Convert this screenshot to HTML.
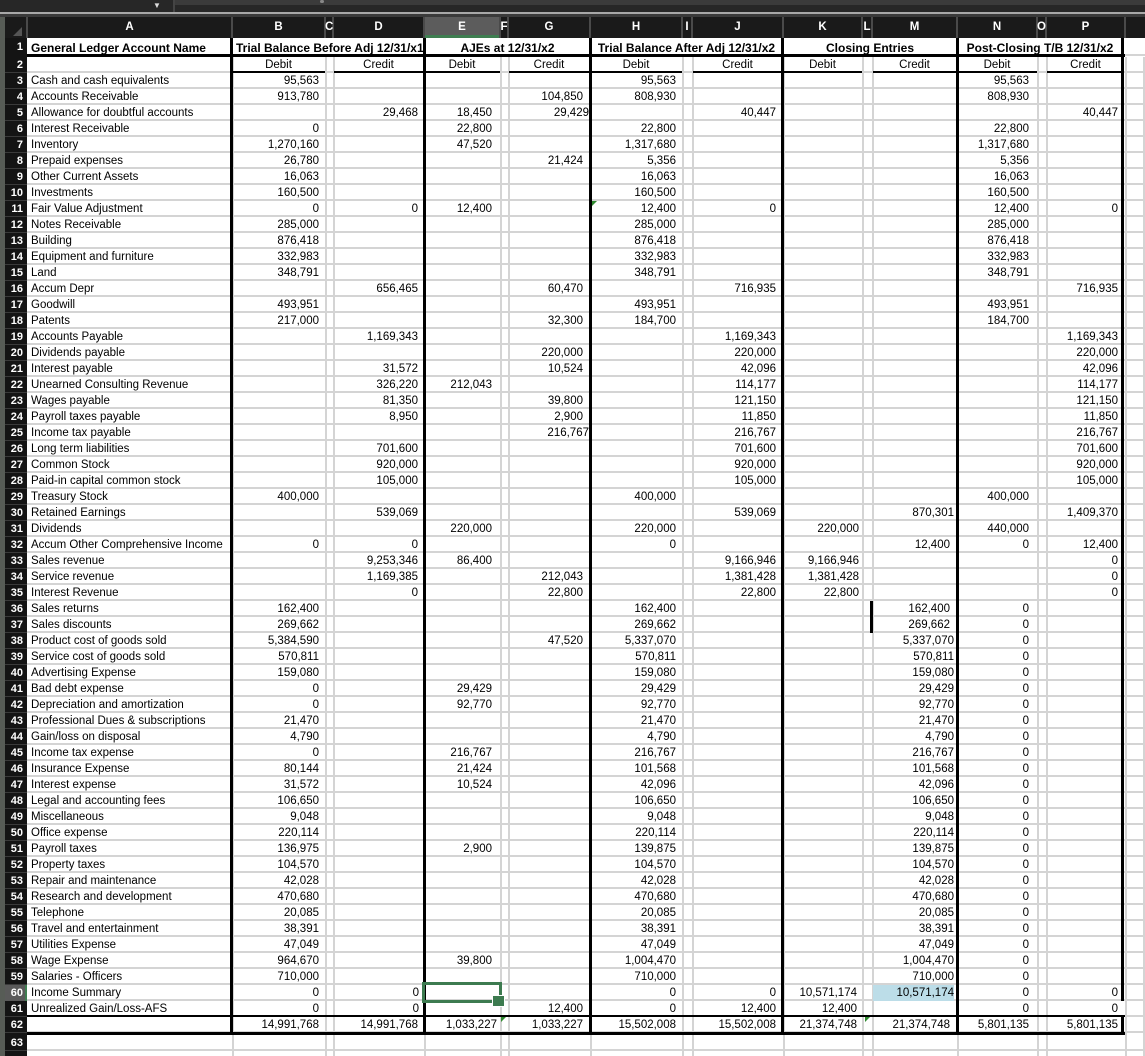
<!DOCTYPE html>
<html><head><meta charset="utf-8"><style>
*{margin:0;padding:0;box-sizing:border-box}
body{width:1145px;height:1056px;overflow:hidden;background:#fff;position:relative;font-family:"Liberation Sans",Arial,sans-serif;font-size:11.5px;color:#000}
.a{position:absolute}
.vg{position:absolute;top:57px;height:999px;width:2px;background:#d4d4d4}
.tk{position:absolute;width:3px;background:#000}
.ul{position:absolute;top:71px;height:2px;background:#000}
.hd{position:absolute;top:17px;height:21px;line-height:21px;color:#fff;font-weight:bold;font-size:11.5px;text-align:center}
.hs{position:absolute;top:17px;height:21px;width:2px;background:#4a4a4a}
.h{position:absolute;top:38px;height:16px;line-height:20px;font-weight:bold;font-size:12px;white-space:nowrap;overflow:hidden}
.r{position:absolute;left:0;width:1145px;height:16px}
.r i{position:absolute;top:0;height:16px;line-height:17.5px;white-space:nowrap;font-style:normal;text-align:right}
.r i.n{left:5px;width:18px;color:#fff;font-weight:bold;font-size:11px}
.r i.A{left:27px;width:205px;text-align:left;padding-left:4px}
.r i.B{left:232px;width:93px;padding-right:6px}
.r i.D{left:333px;width:91px;padding-right:6px}
.r i.E{left:424px;width:76px;padding-right:8px}
.r i.G{left:508px;width:82px;padding-right:7px}
.r i.H{left:590px;width:92px;padding-right:6px}
.r i.J{left:692px;width:91px;padding-right:7px}
.r i.K{left:783px;width:79px;padding-right:3px}
.r i.M{left:872px;width:85px;padding-right:7px}
.r i.N{left:957px;width:80px;padding-right:8px}
.r i.P{left:1046px;width:79px;padding-right:7px}
.r i.f{padding-right:3px}
.r i.g{padding-right:1px}
.r i.k5{padding-right:5px}
.r i.c{text-align:center;padding:0}
.tri{position:absolute;width:0;height:0;border-top:5px solid #2f8a2f;border-right:5px solid transparent}
</style></head><body>

<!-- top toolbar -->
<div class="a" style="left:0;top:0;width:1145px;height:13px;background:#272727"></div>
<div class="a" style="left:175px;top:0;width:970px;height:5px;background:#3b3b3b"></div>
<div class="a" style="left:173px;top:0;width:2px;height:13px;background:#444"></div>
<div class="a" style="left:152px;top:0;width:10px;height:12px;color:#ddd;font-size:8px;line-height:12px;text-align:center">▼</div>
<div class="a" style="left:320px;top:0;width:4px;height:3px;background:#888;border-radius:2px"></div>
<div class="a" style="left:0;top:12px;width:1145px;height:2px;background:#a8a8a8"></div>
<div class="a" style="left:0;top:14px;width:1145px;height:3px;background:#3a3a3a"></div>

<!-- column header -->
<div class="a" style="left:0;top:17px;width:1145px;height:21px;background:#1a1a1a"></div>
<div class="a" style="left:424px;top:17px;width:76px;height:21px;background:#5c5c5c"></div>
<div class="a" style="left:424px;top:35px;width:76px;height:3px;background:#3f7e51"></div>
<div class="a" style="left:13px;top:27px;width:0;height:0;border-left:9px solid transparent;border-bottom:9px solid #555"></div>
<div class="hs" style="left:26px"></div><div class="hs" style="left:231px"></div><div class="hs" style="left:324px"></div><div class="hs" style="left:332px"></div><div class="hs" style="left:423px"></div><div class="hs" style="left:499px"></div><div class="hs" style="left:507px"></div><div class="hs" style="left:589px"></div><div class="hs" style="left:681px"></div><div class="hs" style="left:691px"></div><div class="hs" style="left:782px"></div><div class="hs" style="left:861px"></div><div class="hs" style="left:871px"></div><div class="hs" style="left:956px"></div><div class="hs" style="left:1036px"></div><div class="hs" style="left:1045px"></div><div class="hs" style="left:1124px"></div>
<div class="hd" style="left:27px;width:205px">A</div>
<div class="hd" style="left:232px;width:93px">B</div>
<div class="hd" style="left:325px;width:8px">C</div>
<div class="hd" style="left:333px;width:91px">D</div>
<div class="hd" style="left:424px;width:76px">E</div>
<div class="hd" style="left:500px;width:8px">F</div>
<div class="hd" style="left:508px;width:82px">G</div>
<div class="hd" style="left:590px;width:92px">H</div>
<div class="hd" style="left:682px;width:10px">I</div>
<div class="hd" style="left:692px;width:91px">J</div>
<div class="hd" style="left:783px;width:79px">K</div>
<div class="hd" style="left:862px;width:10px">L</div>
<div class="hd" style="left:872px;width:85px">M</div>
<div class="hd" style="left:957px;width:80px">N</div>
<div class="hd" style="left:1037px;width:9px">O</div>
<div class="hd" style="left:1046px;width:79px">P</div>

<!-- left strip and row number column -->
<div class="a" style="left:0;top:17px;width:5px;height:1039px;background:#575c56"></div>
<div class="a" style="left:5px;top:38px;width:22px;height:1018px;background:#141414"></div>
<div class="a" style="left:5px;top:57px;width:22px;height:976px;background:repeating-linear-gradient(#0000 0 15px,#3a3a3a 15px 16px)"></div>
<div class="a" style="left:5px;top:1035px;width:22px;height:21px;background:repeating-linear-gradient(#0000 0 15px,#3a3a3a 15px 16px)"></div>
<div class="a" style="left:5px;top:985px;width:22px;height:16px;background:#5a5a5a"></div>
<div class="a" style="left:25px;top:985px;width:2px;height:16px;background:#3f7e51"></div>

<!-- horizontal gridlines -->
<div class="a" style="left:27px;top:57px;width:1118px;height:976px;background:repeating-linear-gradient(#0000 0 14px,#d4d4d4 14px 16px)"></div>
<div class="a" style="left:27px;top:1035px;width:1118px;height:21px;background:repeating-linear-gradient(#0000 0 14px,#d4d4d4 14px 16px)"></div>
<div class="a" style="left:1125px;top:54px;width:20px;height:2px;background:#d4d4d4"></div>

<!-- vertical gridlines -->
<div class="vg" style="left:232px"></div><div class="vg" style="left:325px"></div><div class="vg" style="left:333px"></div><div class="vg" style="left:424px"></div><div class="vg" style="left:500px"></div><div class="vg" style="left:508px"></div><div class="vg" style="left:590px"></div><div class="vg" style="left:682px"></div><div class="vg" style="left:692px"></div><div class="vg" style="left:783px"></div><div class="vg" style="left:862px"></div><div class="vg" style="left:872px"></div><div class="vg" style="left:957px"></div><div class="vg" style="left:1037px"></div><div class="vg" style="left:1046px"></div><div class="vg" style="left:1125px"></div><div class="vg" style="left:1143px"></div>

<!-- fill M60 -->
<div class="a" style="left:873px;top:985px;width:81px;height:16px;background:#bcdde8"></div>

<!-- black borders -->
<div class="a" style="left:27px;top:54px;width:1098px;height:3px;background:#000"></div>
<div class="ul" style="left:233px;width:92px"></div>
<div class="ul" style="left:334px;width:90px"></div>
<div class="ul" style="left:425px;width:75px"></div>
<div class="ul" style="left:509px;width:81px"></div>
<div class="ul" style="left:591px;width:91px"></div>
<div class="ul" style="left:693px;width:89px"></div>
<div class="ul" style="left:784px;width:78px"></div>
<div class="ul" style="left:873px;width:84px"></div>
<div class="ul" style="left:958px;width:79px"></div>
<div class="ul" style="left:1047px;width:76px"></div>
<div class="a" style="left:27px;top:1015px;width:1098px;height:2px;background:#000"></div>
<div class="a" style="left:27px;top:1032px;width:1098px;height:3px;background:#000"></div>
<div class="tk" style="left:230px;top:38px;height:997px"></div>
<div class="tk" style="left:423px;top:38px;height:997px"></div>
<div class="tk" style="left:589px;top:38px;height:997px"></div>
<div class="tk" style="left:781px;top:38px;height:997px"></div>
<div class="tk" style="left:956px;top:38px;height:997px"></div>
<div class="tk" style="left:1121px;top:38px;height:963px"></div>
<div class="tk" style="left:1121px;top:1015px;height:20px"></div>
<div class="tk" style="left:870px;top:601px;height:32px"></div>

<!-- header row 1 -->
<div class="h" style="left:31px;width:200px">General Ledger Account Name</div>
<div class="h" style="left:236px;width:187px">Trial Balance Before Adj 12/31/x1</div>
<div class="h" style="left:426px;width:163px;text-align:center">AJEs at 12/31/x2</div>
<div class="h" style="left:592px;width:189px;text-align:center">Trial Balance After Adj 12/31/x2</div>
<div class="h" style="left:784px;width:172px;text-align:center">Closing Entries</div>
<div class="h" style="left:959px;width:162px;text-align:center">Post-Closing T/B 12/31/x2</div>
<div class="r" style="top:38px"><i class="n" style="line-height:19px">1</i></div>

<div class="r" style="top:57px"><i class="n">2</i><i class="B c">Debit</i><i class="D c">Credit</i><i class="E c">Debit</i><i class="G c">Credit</i><i class="H c">Debit</i><i class="J c">Credit</i><i class="K c">Debit</i><i class="M c">Credit</i><i class="N c">Debit</i><i class="P c">Credit</i></div>
<div class="r" style="top:73px"><i class="n">3</i><i class="A">Cash and cash equivalents</i><i class="B">95,563</i><i class="H">95,563</i><i class="N">95,563</i></div>
<div class="r" style="top:89px"><i class="n">4</i><i class="A">Accounts Receivable</i><i class="B">913,780</i><i class="G">104,850</i><i class="H">808,930</i><i class="N">808,930</i></div>
<div class="r" style="top:105px"><i class="n">5</i><i class="A">Allowance for doubtful accounts</i><i class="D">29,468</i><i class="E">18,450</i><i class="G g">29,429</i><i class="J">40,447</i><i class="P">40,447</i></div>
<div class="r" style="top:121px"><i class="n">6</i><i class="A">Interest Receivable</i><i class="B">0</i><i class="E">22,800</i><i class="H">22,800</i><i class="N">22,800</i></div>
<div class="r" style="top:137px"><i class="n">7</i><i class="A">Inventory</i><i class="B">1,270,160</i><i class="E">47,520</i><i class="H">1,317,680</i><i class="N">1,317,680</i></div>
<div class="r" style="top:153px"><i class="n">8</i><i class="A">Prepaid expenses</i><i class="B">26,780</i><i class="G">21,424</i><i class="H">5,356</i><i class="N">5,356</i></div>
<div class="r" style="top:169px"><i class="n">9</i><i class="A">Other Current Assets</i><i class="B">16,063</i><i class="H">16,063</i><i class="N">16,063</i></div>
<div class="r" style="top:185px"><i class="n">10</i><i class="A">Investments</i><i class="B">160,500</i><i class="H">160,500</i><i class="N">160,500</i></div>
<div class="r" style="top:201px"><i class="n">11</i><i class="A">Fair Value Adjustment</i><i class="B">0</i><i class="D">0</i><i class="E">12,400</i><i class="H">12,400</i><i class="J">0</i><i class="N">12,400</i><i class="P">0</i></div>
<div class="r" style="top:217px"><i class="n">12</i><i class="A">Notes Receivable</i><i class="B">285,000</i><i class="H">285,000</i><i class="N">285,000</i></div>
<div class="r" style="top:233px"><i class="n">13</i><i class="A">Building</i><i class="B">876,418</i><i class="H">876,418</i><i class="N">876,418</i></div>
<div class="r" style="top:249px"><i class="n">14</i><i class="A">Equipment and furniture</i><i class="B">332,983</i><i class="H">332,983</i><i class="N">332,983</i></div>
<div class="r" style="top:265px"><i class="n">15</i><i class="A">Land</i><i class="B">348,791</i><i class="H">348,791</i><i class="N">348,791</i></div>
<div class="r" style="top:281px"><i class="n">16</i><i class="A">Accum Depr</i><i class="D">656,465</i><i class="G">60,470</i><i class="J">716,935</i><i class="P">716,935</i></div>
<div class="r" style="top:297px"><i class="n">17</i><i class="A">Goodwill</i><i class="B">493,951</i><i class="H">493,951</i><i class="N">493,951</i></div>
<div class="r" style="top:313px"><i class="n">18</i><i class="A">Patents</i><i class="B">217,000</i><i class="G">32,300</i><i class="H">184,700</i><i class="N">184,700</i></div>
<div class="r" style="top:329px"><i class="n">19</i><i class="A">Accounts Payable</i><i class="D">1,169,343</i><i class="J">1,169,343</i><i class="P">1,169,343</i></div>
<div class="r" style="top:345px"><i class="n">20</i><i class="A">Dividends payable</i><i class="G">220,000</i><i class="J">220,000</i><i class="P">220,000</i></div>
<div class="r" style="top:361px"><i class="n">21</i><i class="A">Interest payable</i><i class="D">31,572</i><i class="G">10,524</i><i class="J">42,096</i><i class="P">42,096</i></div>
<div class="r" style="top:377px"><i class="n">22</i><i class="A">Unearned Consulting Revenue</i><i class="D">326,220</i><i class="E">212,043</i><i class="J">114,177</i><i class="P">114,177</i></div>
<div class="r" style="top:393px"><i class="n">23</i><i class="A">Wages payable</i><i class="D">81,350</i><i class="G">39,800</i><i class="J">121,150</i><i class="P">121,150</i></div>
<div class="r" style="top:409px"><i class="n">24</i><i class="A">Payroll taxes payable</i><i class="D">8,950</i><i class="G">2,900</i><i class="J">11,850</i><i class="P">11,850</i></div>
<div class="r" style="top:425px"><i class="n">25</i><i class="A">Income tax payable</i><i class="G g">216,767</i><i class="J">216,767</i><i class="P">216,767</i></div>
<div class="r" style="top:441px"><i class="n">26</i><i class="A">Long term liabilities</i><i class="D">701,600</i><i class="J">701,600</i><i class="P">701,600</i></div>
<div class="r" style="top:457px"><i class="n">27</i><i class="A">Common Stock</i><i class="D">920,000</i><i class="J">920,000</i><i class="P">920,000</i></div>
<div class="r" style="top:473px"><i class="n">28</i><i class="A">Paid-in capital common stock</i><i class="D">105,000</i><i class="J">105,000</i><i class="P">105,000</i></div>
<div class="r" style="top:489px"><i class="n">29</i><i class="A">Treasury Stock</i><i class="B">400,000</i><i class="H">400,000</i><i class="N">400,000</i></div>
<div class="r" style="top:505px"><i class="n">30</i><i class="A">Retained Earnings</i><i class="D">539,069</i><i class="J">539,069</i><i class="M f">870,301</i><i class="P">1,409,370</i></div>
<div class="r" style="top:521px"><i class="n">31</i><i class="A">Dividends</i><i class="E">220,000</i><i class="H">220,000</i><i class="K">220,000</i><i class="N">440,000</i></div>
<div class="r" style="top:537px"><i class="n">32</i><i class="A">Accum Other Comprehensive Income</i><i class="B">0</i><i class="D">0</i><i class="H">0</i><i class="M">12,400</i><i class="N">0</i><i class="P">12,400</i></div>
<div class="r" style="top:553px"><i class="n">33</i><i class="A">Sales revenue</i><i class="D">9,253,346</i><i class="E">86,400</i><i class="J">9,166,946</i><i class="K">9,166,946</i><i class="P">0</i></div>
<div class="r" style="top:569px"><i class="n">34</i><i class="A">Service revenue</i><i class="D">1,169,385</i><i class="G">212,043</i><i class="J">1,381,428</i><i class="K">1,381,428</i><i class="P">0</i></div>
<div class="r" style="top:585px"><i class="n">35</i><i class="A">Interest Revenue</i><i class="D">0</i><i class="G">22,800</i><i class="J">22,800</i><i class="K">22,800</i><i class="P">0</i></div>
<div class="r" style="top:601px"><i class="n">36</i><i class="A">Sales returns</i><i class="B">162,400</i><i class="H">162,400</i><i class="M">162,400</i><i class="N">0</i></div>
<div class="r" style="top:617px"><i class="n">37</i><i class="A">Sales discounts</i><i class="B">269,662</i><i class="H">269,662</i><i class="M">269,662</i><i class="N">0</i></div>
<div class="r" style="top:633px"><i class="n">38</i><i class="A">Product cost of goods sold</i><i class="B">5,384,590</i><i class="G">47,520</i><i class="H">5,337,070</i><i class="M f">5,337,070</i><i class="N">0</i></div>
<div class="r" style="top:649px"><i class="n">39</i><i class="A">Service cost of goods sold</i><i class="B">570,811</i><i class="H">570,811</i><i class="M f">570,811</i><i class="N">0</i></div>
<div class="r" style="top:665px"><i class="n">40</i><i class="A">Advertising Expense</i><i class="B">159,080</i><i class="H">159,080</i><i class="M f">159,080</i><i class="N">0</i></div>
<div class="r" style="top:681px"><i class="n">41</i><i class="A">Bad debt expense</i><i class="B">0</i><i class="E">29,429</i><i class="H">29,429</i><i class="M f">29,429</i><i class="N">0</i></div>
<div class="r" style="top:697px"><i class="n">42</i><i class="A">Depreciation and amortization</i><i class="B">0</i><i class="E">92,770</i><i class="H">92,770</i><i class="M f">92,770</i><i class="N">0</i></div>
<div class="r" style="top:713px"><i class="n">43</i><i class="A">Professional Dues &amp; subscriptions</i><i class="B">21,470</i><i class="H">21,470</i><i class="M f">21,470</i><i class="N">0</i></div>
<div class="r" style="top:729px"><i class="n">44</i><i class="A">Gain/loss on disposal</i><i class="B">4,790</i><i class="H">4,790</i><i class="M f">4,790</i><i class="N">0</i></div>
<div class="r" style="top:745px"><i class="n">45</i><i class="A">Income tax expense</i><i class="B">0</i><i class="E">216,767</i><i class="H">216,767</i><i class="M f">216,767</i><i class="N">0</i></div>
<div class="r" style="top:761px"><i class="n">46</i><i class="A">Insurance Expense</i><i class="B">80,144</i><i class="E">21,424</i><i class="H">101,568</i><i class="M f">101,568</i><i class="N">0</i></div>
<div class="r" style="top:777px"><i class="n">47</i><i class="A">Interest expense</i><i class="B">31,572</i><i class="E">10,524</i><i class="H">42,096</i><i class="M f">42,096</i><i class="N">0</i></div>
<div class="r" style="top:793px"><i class="n">48</i><i class="A">Legal and accounting fees</i><i class="B">106,650</i><i class="H">106,650</i><i class="M f">106,650</i><i class="N">0</i></div>
<div class="r" style="top:809px"><i class="n">49</i><i class="A">Miscellaneous</i><i class="B">9,048</i><i class="H">9,048</i><i class="M f">9,048</i><i class="N">0</i></div>
<div class="r" style="top:825px"><i class="n">50</i><i class="A">Office expense</i><i class="B">220,114</i><i class="H">220,114</i><i class="M f">220,114</i><i class="N">0</i></div>
<div class="r" style="top:841px"><i class="n">51</i><i class="A">Payroll taxes</i><i class="B">136,975</i><i class="E">2,900</i><i class="H">139,875</i><i class="M f">139,875</i><i class="N">0</i></div>
<div class="r" style="top:857px"><i class="n">52</i><i class="A">Property taxes</i><i class="B">104,570</i><i class="H">104,570</i><i class="M f">104,570</i><i class="N">0</i></div>
<div class="r" style="top:873px"><i class="n">53</i><i class="A">Repair and maintenance</i><i class="B">42,028</i><i class="H">42,028</i><i class="M f">42,028</i><i class="N">0</i></div>
<div class="r" style="top:889px"><i class="n">54</i><i class="A">Research and development</i><i class="B">470,680</i><i class="H">470,680</i><i class="M f">470,680</i><i class="N">0</i></div>
<div class="r" style="top:905px"><i class="n">55</i><i class="A">Telephone</i><i class="B">20,085</i><i class="H">20,085</i><i class="M f">20,085</i><i class="N">0</i></div>
<div class="r" style="top:921px"><i class="n">56</i><i class="A">Travel and entertainment</i><i class="B">38,391</i><i class="H">38,391</i><i class="M f">38,391</i><i class="N">0</i></div>
<div class="r" style="top:937px"><i class="n">57</i><i class="A">Utilities Expense</i><i class="B">47,049</i><i class="H">47,049</i><i class="M f">47,049</i><i class="N">0</i></div>
<div class="r" style="top:953px"><i class="n">58</i><i class="A">Wage Expense</i><i class="B">964,670</i><i class="E">39,800</i><i class="H">1,004,470</i><i class="M f">1,004,470</i><i class="N">0</i></div>
<div class="r" style="top:969px"><i class="n">59</i><i class="A">Salaries - Officers</i><i class="B">710,000</i><i class="H">710,000</i><i class="M f">710,000</i><i class="N">0</i></div>
<div class="r" style="top:985px"><i class="n">60</i><i class="A">Income Summary</i><i class="B">0</i><i class="D k5">0</i><i class="H">0</i><i class="J">0</i><i class="K k5">10,571,174</i><i class="M f">10,571,174</i><i class="N">0</i><i class="P">0</i></div>
<div class="r" style="top:1001px"><i class="n">61</i><i class="A">Unrealized Gain/Loss-AFS</i><i class="B">0</i><i class="D k5">0</i><i class="G">12,400</i><i class="H">0</i><i class="J">12,400</i><i class="K k5">12,400</i><i class="N">0</i><i class="P">0</i></div>
<div class="r" style="top:1017px"><i class="n">62</i><i class="B">14,991,768</i><i class="D">14,991,768</i><i class="E" style="padding-right:3px">1,033,227</i><i class="G">1,033,227</i><i class="H">15,502,008</i><i class="J">15,502,008</i><i class="K k5">21,374,748</i><i class="M">21,374,748</i><i class="N">5,801,135</i><i class="P">5,801,135</i></div>
<div class="r" style="top:1035px"><i class="n">63</i></div>

<!-- error triangles -->
<div class="tri" style="left:592px;top:201px"></div>
<div class="tri" style="left:501px;top:1017px"></div>
<div class="tri" style="left:865px;top:1017px"></div>

<!-- selection E60 -->
<div class="a" style="left:422px;top:982px;width:80px;height:21px;border:3px solid #3d7b50"></div>
<div class="a" style="left:493px;top:996px;width:11px;height:10px;background:#3d7b50;outline:1px solid #fff"></div>

</body></html>
